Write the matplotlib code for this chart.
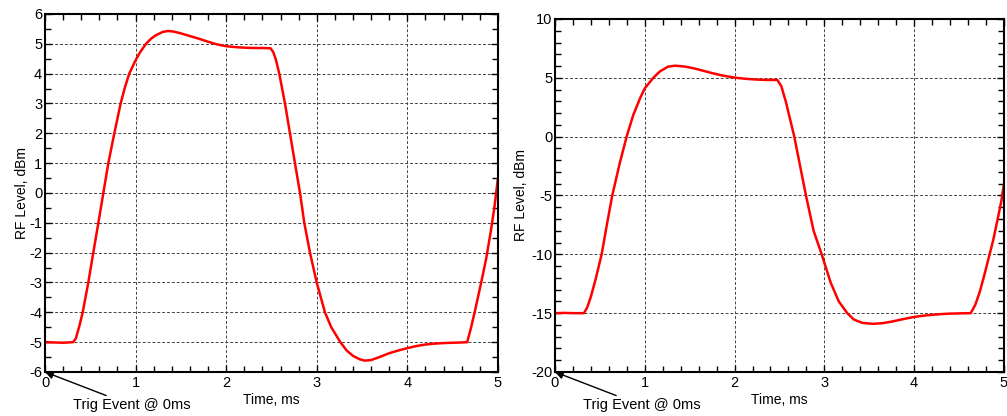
import matplotlib
matplotlib.use("Agg")
import matplotlib.pyplot as plt
from matplotlib.ticker import MultipleLocator

plt.rcParams['font.family'] = ['Liberation Sans', 'DejaVu Sans']
plt.rcParams['font.size'] = 10
plt.rcParams['axes.unicode_minus'] = False

# Left chart: RF level (dBm) vs time (ms)
t_left = [0.00, 0.10, 0.20, 0.31, 0.34, 0.38, 0.416, 0.478, 0.533, 0.589,
          0.644, 0.699, 0.765, 0.835, 0.88, 0.93, 1.00, 1.05, 1.115, 1.17,
          1.22, 1.30, 1.36, 1.42, 1.50, 1.60, 1.70, 1.80, 1.90, 2.00,
          2.10, 2.20, 2.30, 2.40, 2.49, 2.52, 2.55, 2.586, 2.649, 2.704,
          2.759, 2.815, 2.862, 2.925, 2.999, 3.09, 3.16, 3.26, 3.33, 3.40,
          3.47, 3.53, 3.60, 3.70, 3.80, 3.90, 4.00, 4.10, 4.20, 4.30,
          4.40, 4.50, 4.60, 4.66, 4.70, 4.75, 4.82, 4.87, 4.92, 4.96,
          5.00]
v_left = [-5.00, -5.01, -5.02, -5.00, -4.88, -4.45, -4.00, -3.00, -2.00, -1.00,
          0.00, 1.00, 2.00, 3.00, 3.52, 4.00, 4.45, 4.72, 5.00, 5.17,
          5.28, 5.40, 5.43, 5.41, 5.35, 5.26, 5.17, 5.07, 4.98, 4.92,
          4.89, 4.87, 4.86, 4.86, 4.85, 4.72, 4.45, 4.00, 3.00, 2.00,
          1.00, 0.00, -1.00, -2.00, -3.00, -4.00, -4.50, -5.00, -5.28, -5.46,
          -5.57, -5.62, -5.60, -5.49, -5.37, -5.28, -5.20, -5.13, -5.08, -5.05,
          -5.03, -5.02, -5.01, -5.00, -4.55, -3.90, -2.93, -2.20, -1.30, -0.50,
          0.50]

# Right chart
t_right = [0.00, 0.10, 0.20, 0.323, 0.36, 0.40, 0.45, 0.52, 0.58, 0.638,
           0.72, 0.798, 0.87, 0.95, 1.00, 1.095, 1.17, 1.26, 1.34, 1.45,
           1.55, 1.65, 1.75, 1.85, 1.95, 2.05, 2.15, 2.25, 2.35, 2.476,
           2.52, 2.57, 2.665, 2.73, 2.795, 2.88, 2.97, 3.07, 3.16, 3.255,
           3.33, 3.42, 3.54, 3.65, 3.75, 3.85, 4.00, 4.10, 4.20, 4.30,
           4.40, 4.50, 4.63, 4.68, 4.73, 4.78, 4.83, 4.88, 4.93, 4.97,
           5.00]
v_right = [-15.00, -14.98, -15.00, -15.00, -14.50, -13.60, -12.20, -10.00, -7.40, -5.00,
           -2.30, 0.00, 1.80, 3.30, 4.10, 5.00, 5.55, 5.95, 6.03, 5.95,
           5.80, 5.60, 5.40, 5.22, 5.08, 4.97, 4.90, 4.85, 4.82, 4.82,
           4.30, 3.00, 0.00, -2.50, -5.00, -8.00, -10.00, -12.40, -14.00, -15.00,
           -15.55, -15.82, -15.91, -15.85, -15.72, -15.55, -15.32, -15.22, -15.14, -15.08,
           -15.04, -15.02, -15.00, -14.30, -13.20, -11.80, -10.30, -8.80, -7.00, -5.50,
           -4.00]

axis_cfg = [
    (t_left, v_left, (-6, 6), 1, 0.5, [0.0447, 0.1058, 0.4498, 0.8606], -0.036),
    (t_right, v_right, (-20, 10), 5, 1, [0.5511, 0.1058, 0.4459, 0.8486], -0.060),
]

fig = plt.figure(figsize=(10.07, 4.16), dpi=100)

for t, v, ylim, ymaj, ymin, rect, ylab_x in axis_cfg:
    ax = fig.add_axes(rect)
    ax.plot(t, v, color='#ff0000', linewidth=1.8, solid_joinstyle='round',
            solid_capstyle='round')
    ax.set_xlim(0, 5)
    ax.set_ylim(*ylim)
    ax.xaxis.set_major_locator(MultipleLocator(1))
    ax.xaxis.set_minor_locator(MultipleLocator(0.2))
    ax.yaxis.set_major_locator(MultipleLocator(ymaj))
    ax.yaxis.set_minor_locator(MultipleLocator(ymin))
    ax.tick_params(which='both', direction='in', top=True, right=True,
                   color='black', labelsize=10.5, pad=3)
    ax.tick_params(which='major', length=5, width=1)
    ax.tick_params(which='minor', length=4, width=1)
    ax.tick_params(axis='y', pad=2)
    ax.grid(True, which='major', color='#444444', linestyle=(0, (3, 2)), linewidth=0.7)
    for s in ax.spines.values():
        s.set_linewidth(1.5)
    ax.set_xlabel('Time, ms', labelpad=2)
    ax.set_ylabel('RF Level, dBm')
    ax.yaxis.set_label_coords(ylab_x, 0.5)
    ax.annotate('Trig Event @ 0ms', xy=(0, ylim[0]), xycoords='data',
                xytext=(20, -24), textcoords='offset points',
                ha='left', va='center', fontsize=10.5,
                arrowprops=dict(arrowstyle='-|>', color='black', lw=1,
                                mutation_scale=12, shrinkA=0, shrinkB=0))

fig.savefig('out.png', dpi=100)
